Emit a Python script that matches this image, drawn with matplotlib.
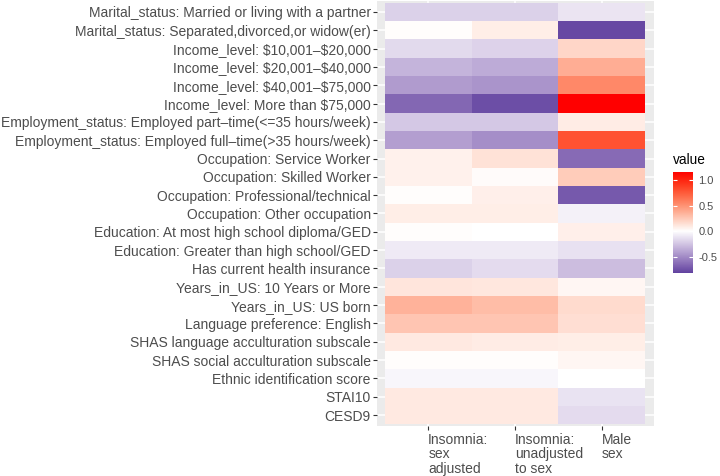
import numpy as np
import matplotlib
matplotlib.use("Agg")
import matplotlib.pyplot as plt
from matplotlib.colors import LinearSegmentedColormap, Normalize, to_rgb

plt.rcParams['font.family'] = ['Liberation Sans', 'DejaVu Sans']

# rows of the heatmap, top to bottom
variables = [
    "Marital_status: Married or living with a partner",
    "Marital_status: Separated,divorced,or widow(er)",
    "Income_level: $10,001\u2013$20,000",
    "Income_level: $20,001\u2013$40,000",
    "Income_level: $40,001\u2013$75,000",
    "Income_level: More than $75,000",
    "Employment_status: Employed part\u2013time(<=35 hours/week)",
    "Employment_status: Employed full\u2013time(>35 hours/week)",
    "Occupation: Service Worker",
    "Occupation: Skilled Worker",
    "Occupation: Professional/technical",
    "Occupation: Other occupation",
    "Education: At most high school diploma/GED",
    "Education: Greater than high school/GED",
    "Has current health insurance",
    "Years_in_US: 10 Years or More",
    "Years_in_US: US born",
    "Language preference: English",
    "SHAS language acculturation subscale",
    "SHAS social acculturation subscale",
    "Ethnic identification score",
    "STAI10",
    "CESD9",
]
columns = ["Insomnia:\nsex\nadjusted", "Insomnia:\nunadjusted\nto sex", "Male\nsex"]

insomnia_adj = [-0.20, 0.01, -0.16, -0.32, -0.43, -0.65, -0.24, -0.41, 0.06, 0.06, 0.01, 0.08,
                0.01, -0.09, -0.20, 0.12, 0.35, 0.26, 0.10, 0.01, -0.04, 0.10, 0.10]
insomnia_unadj = [-0.20, 0.08, -0.19, -0.36, -0.46, -0.76, -0.24, -0.48, 0.13, 0.02, 0.07, 0.08,
                  0.00, -0.09, -0.15, 0.11, 0.30, 0.26, 0.09, 0.01, -0.04, 0.10, 0.10]
male_sex = [-0.11, -0.78, 0.19, 0.37, 0.54, 1.16, 0.09, 0.79, -0.64, 0.23, -0.71, -0.06,
            0.07, -0.13, -0.28, 0.04, 0.16, 0.15, 0.08, 0.04, 0.00, -0.12, -0.15]

vmin, vmax = -0.81, 1.16
low_col, mid_col, high_col = "#6243A0", "#FFFFFF", "#FF0000"


# ggplot interpolates the gradient in Lab space
def srgb_to_lab(c):
    c = np.asarray(c, float)
    lin = np.where(c <= 0.04045, c / 12.92, ((c + 0.055) / 1.055) ** 2.4)
    M = np.array([[0.4124, 0.3576, 0.1805], [0.2126, 0.7152, 0.0722], [0.0193, 0.1192, 0.9505]])
    xyz = M @ lin / np.array([0.95047, 1.0, 1.08883])
    f = np.where(xyz > 0.008856, np.cbrt(xyz), 7.787 * xyz + 16 / 116)
    return np.array([116 * f[1] - 16, 500 * (f[0] - f[1]), 200 * (f[1] - f[2])])


def lab_to_srgb(lab):
    L, a, b = lab
    fy = (L + 16) / 116
    f = np.array([fy + a / 500, fy, fy - b / 200])
    xyz = np.where(f ** 3 > 0.008856, f ** 3, (f - 16 / 116) / 7.787) * np.array([0.95047, 1.0, 1.08883])
    Minv = np.array([[3.2406, -1.5372, -0.4986], [-0.9689, 1.8758, 0.0415], [0.0557, -0.2040, 1.0570]])
    lin = np.clip(Minv @ xyz, 0, 1)
    return np.clip(np.where(lin <= 0.0031308, 12.92 * lin, 1.055 * lin ** (1 / 2.4) - 0.055), 0, 1)


def lab_path(c0, c1, n=40):
    l0, l1 = srgb_to_lab(to_rgb(c0)), srgb_to_lab(to_rgb(c1))
    return [lab_to_srgb(l0 + (l1 - l0) * t) for t in np.linspace(0, 1, n)]


# place the Lab path samples by their green channel so that shade tracks value
mid = -vmin / (vmax - vmin)
stops = []
path_lo = lab_path(mid_col, low_col)
g0, g1 = path_lo[0][1], path_lo[-1][1]
for c in path_lo[::-1]:
    stops.append((mid * (1 - (g0 - c[1]) / (g0 - g1)), c))
path_hi = lab_path(mid_col, high_col)
g0, g1 = path_hi[0][1], path_hi[-1][1]
for c in path_hi[1:]:
    stops.append((mid + (1 - mid) * (g0 - c[1]) / (g0 - g1), c))
stops[0] = (0.0, stops[0][1])
stops[-1] = (1.0, stops[-1][1])
cmap = LinearSegmentedColormap.from_list("purple_red", stops)
norm = Normalize(vmin=vmin, vmax=vmax)

Z = np.array([insomnia_adj, insomnia_unadj, male_sex]).T
nrow, ncol = Z.shape

fig = plt.figure(figsize=(7.2, 4.76), dpi=100)
ax = fig.add_axes([377 / 720, 1 - 426 / 476, 277 / 720, 425 / 476])
ax.set_facecolor("#EBEBEB")
ax.pcolormesh(np.arange(ncol + 1) - 0.5, np.arange(nrow + 1) - 0.5, Z,
              cmap=cmap, norm=norm, zorder=2)
ax.set_xlim(-0.59, 2.6)
ax.set_ylim(nrow - 1 + 0.6, -0.6)
ax.set_xticks(range(ncol))
ax.set_xticklabels(columns, ha="left", va="top", linespacing=1.05)
ax.set_yticks(range(nrow))
ax.set_yticklabels(variables, parse_math=False)
ax.grid(True, color="white", linewidth=1.1, zorder=1)
ax.set_axisbelow(True)
for s in ax.spines.values():
    s.set_visible(False)
ax.tick_params(axis="both", colors="#333333", length=3, width=0.8, labelsize=10,
               labelcolor="#4D4D4D")
ax.tick_params(axis="x", pad=2)
ax.tick_params(axis="y", pad=1.5)

# colourbar legend, ggplot style
cax = fig.add_axes([673 / 720, 1 - 273 / 476, 20 / 720, 101 / 476])
grad = np.linspace(vmin, vmax, 300)[:, None]
cax.imshow(grad, aspect="auto", origin="lower", extent=[0, 1, vmin, vmax], cmap=cmap, norm=norm)
ticks = [-0.5, 0.0, 0.5, 1.0]
cax.hlines(ticks, 0, 0.2, color="white", linewidth=0.8)
cax.hlines(ticks, 0.8, 1, color="white", linewidth=0.8)
cax.set_xticks([])
cax.yaxis.tick_right()
cax.set_yticks(ticks)
cax.set_yticklabels(["-0.5", "0.0", "0.5", "1.0"])
cax.tick_params(axis="y", length=0, pad=4, labelsize=8, labelcolor="#4D4D4D")
for s in cax.spines.values():
    s.set_visible(False)
fig.text(673 / 720, 1 - 160 / 476, "value", fontsize=9.8, ha="left", va="center")

fig.savefig("out.png", dpi=100)
